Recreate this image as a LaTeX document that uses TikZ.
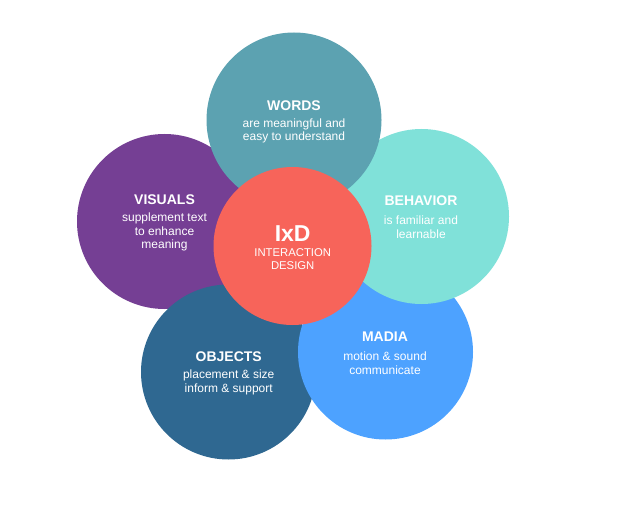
\documentclass[tikz,border=0pt]{standalone}
\usepackage{fontspec}
\setmainfont{Liberation Sans}
\definecolor{wordsc}{HTML}{5CA2B1}
\definecolor{visualsc}{HTML}{753F94}
\definecolor{behaviorc}{HTML}{80E1D9}
\definecolor{objectsc}{HTML}{2F6891}
\definecolor{madiac}{HTML}{4DA2FF}
\definecolor{ixdc}{HTML}{F7645A}
\tikzset{
  petal/.style={circle, minimum size=175pt, inner sep=0pt},
  title/.style={text=white, font=\fontsize{14}{16}\selectfont\bfseries},
  desc/.style={text=white, align=center, font=\fontsize{12}{13.5}\selectfont}
}
\begin{document}
\begin{tikzpicture}[x=1pt,y=-1pt]
\useasboundingbox (0,0) rectangle (636,505);
\node[petal, fill=visualsc] (visuals) at (164.5,221.5) {};
\node[petal, fill=objectsc] (objects) at (228.5,372) {};
\node[petal, fill=madiac] (madia) at (385.5,352) {};
\node[petal, fill=behaviorc] (behavior) at (421.5,216.5) {};
\node[petal, fill=wordsc] (words) at (294,120) {};
\node[circle, minimum size=158pt, inner sep=0pt, fill=ixdc] (ixd) at (292.5,246) {};
% texts
\node[title] (wordst) at (294,106) {WORDS};
\node[desc] (wordsd) at (294,131) {are meaningful and\\easy to understand};
\node[title] (visualst) at (164.5,200) {VISUALS};
\node[desc] (visualsd) at (164.5,232) {supplement text\\to enhance\\meaning};
\node[title] (behaviort) at (421,201) {BEHAVIOR};
\node[desc] (behaviord) at (421,227) {is familiar and\\learnable};
\node[text=white, font=\fontsize{23}{25}\selectfont\bfseries] (ixdt) at (292.7,234) {IxD};
\node[desc, font=\fontsize{11.3}{13.5}\selectfont] (ixdd) at (292.7,259) {INTERACTION\\DESIGN};
\node[title] (madiat) at (385,337) {MADIA};
\node[desc] (madiad) at (385,363) {motion \& sound\\communicate};
\node[title] (objectst) at (228.7,357) {OBJECTS};
\node[desc] (objectsd) at (228.7,382.5) {placement \& size\\inform \& support};
\end{tikzpicture}
\end{document}
